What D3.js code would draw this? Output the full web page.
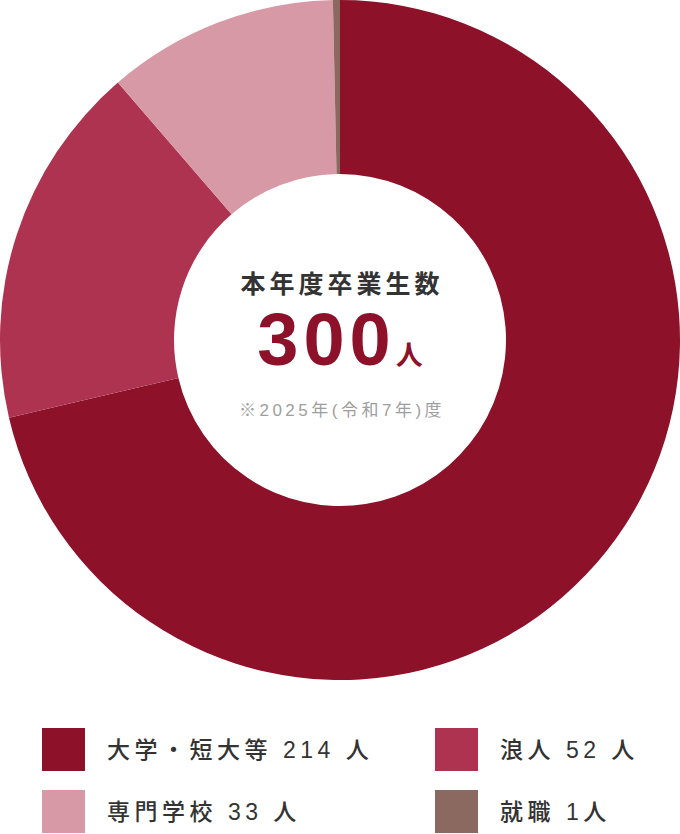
<!DOCTYPE html>
<html>
<head>
<meta charset="utf-8">
<script src="https://cdn.jsdelivr.net/npm/d3@7"></script>
<style>
  body { margin: 0; background: #fff; }
  svg { display: block; font-family: "Liberation Sans", "Noto Sans CJK JP", sans-serif; }
</style>
</head>
<body>
<div id="vis"></div>
<script>
// chart data
const categories = ["大学・短大等", "浪人", "専門学校", "就職"]
const counts = [214, 52, 33, 1]
const legendLabels = ["大学・短大等 214 人", "浪人 52 人", "専門学校 33 人", "就職 1人"]
const colors = ["#8c1129", "#ad3350", "#d899a6", "#8c6960"]

const totalTitle = "本年度卒業生数"
const totalNote = "※2025年(令和7年)度"

const width = 680
const height = 834
const cx = 340, cy = 340
const outerR = 340, innerR = 166

const svg = d3.select("#vis").append("svg")
    .attr("width", width)
    .attr("height", height)

const color = d3.scaleOrdinal().domain(categories).range(colors)

//pie keeps the given order, clockwise from 12 o'clock
const pie = d3.pie().sort(null).value(d => d.value)
const arc = d3.arc().innerRadius(innerR).outerRadius(outerR)

const data = categories.map((c, i) => ({name: c, value: counts[i]}))

const g = svg.append("g").attr("transform", "translate(" + cx + "," + cy + ")")

g.selectAll("path")
    .data(pie(data))
    .enter()
    .append("path")
    .attr("d", arc)
    .attr("fill", d => color(d.data.name))

//center text
g.append("text")
    .attr("y", -47)
    .attr("dx", 2)
    .attr("text-anchor", "middle")
    .attr("font-family", "Noto Sans CJK JP")
    .attr("font-size", 25)
    .attr("font-weight", 700)
    .attr("letter-spacing", 4)
    .attr("fill", "#333")
    .text(totalTitle)

const total = d3.sum(counts)
const big = g.append("text")
    .attr("y", 25)
    .attr("text-anchor", "middle")
    .attr("fill", "#8c1129")
    .attr("font-weight", 700)
big.append("tspan").attr("font-size", 74).attr("letter-spacing", 5).text(total)
big.append("tspan").attr("font-family", "Noto Sans CJK JP").attr("font-size", 27).text("人")

g.append("text")
    .attr("y", 76)
    .attr("dx", 2)
    .attr("text-anchor", "middle")
    .attr("font-size", 17)
    .attr("letter-spacing", 3.5)
    .attr("fill", "#9e9e9e")
    .text(totalNote)

//legend, 2 columns
const legend = svg.append("g").selectAll("g")
    .data(data)
    .enter()
    .append("g")
    .attr("transform", (d, i) => "translate(" + (i % 2 ? 435 : 42) + "," + (728 + Math.floor(i / 2) * 62) + ")")

legend.append("rect")
    .attr("width", 43)
    .attr("height", 43)
    .attr("fill", d => color(d.name))

legend.append("text")
    .attr("x", 65)
    .attr("y", 30)
    .attr("font-size", 23)
    .attr("font-weight", 500)
    .attr("letter-spacing", 4.5)
    .attr("fill", "#333")
    .text((d, i) => legendLabels[i])
</script>
</body>
</html>
